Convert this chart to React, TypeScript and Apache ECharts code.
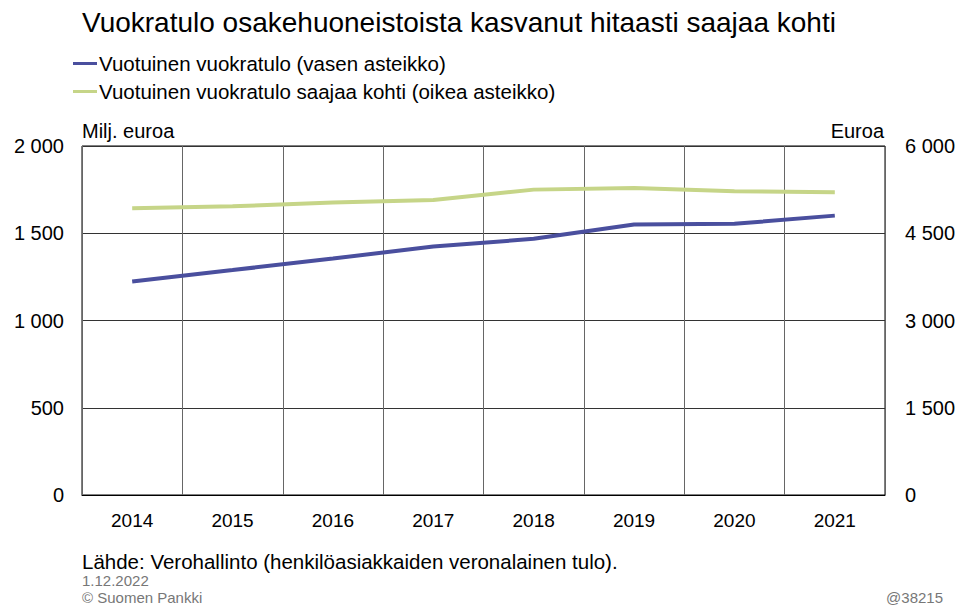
import React, { useEffect, useRef } from "react";
import * as echarts from "echarts";

const years = ["2014", "2015", "2016", "2017", "2018", "2019", "2020", "2021"];
const rentIncome = [1224, 1289, 1355, 1424, 1468, 1550, 1554, 1601];
const rentPerRecipient = [4929, 4964, 5027, 5073, 5250, 5279, 5221, 5204];
const seriesNames = [
  "Vuotuinen vuokratulo (vasen asteikko)",
  "Vuotuinen vuokratulo saajaa kohti (oikea asteikko)",
];

const FONT = "Liberation Sans, Arial, sans-serif";
const fmt = (v: number) => {
  const s = String(Math.round(v));
  return s.length > 3 ? s.slice(0, s.length - 3) + " " + s.slice(-3) : s;
};

export default function App() {
  const ref = useRef<HTMLDivElement>(null);
  useEffect(() => {
    if (!ref.current) return;
    const chart = echarts.init(ref.current, undefined, { renderer: "svg" });
    chart.setOption({
      animation: false,
      textStyle: { fontFamily: FONT },
      title: {
        text: "Vuokratulo osakehuoneistoista kasvanut hitaasti saajaa kohti",
        left: 82,
        top: 8,
        padding: 0,
        textStyle: { fontFamily: FONT, fontSize: 28, fontWeight: "normal", color: "#000" },
      },
      legend: {
        orient: "vertical",
        left: 73,
        top: 53,
        padding: 0,
        itemGap: 7,
        itemWidth: 24,
        itemHeight: 3,
        icon: "rect",
        textStyle: {
          fontFamily: FONT,
          fontSize: 20.5,
          lineHeight: 20,
          color: "#000",
          padding: [0, 0, 0, -3],
        },
        data: seriesNames,
      },
      grid: {
        left: 82,
        right: 74,
        top: 146,
        bottom: 115,
        show: true,
        borderColor: "#000",
        borderWidth: 1,
      },
      xAxis: {
        type: "category",
        data: years,
        boundaryGap: true,
        axisLine: { lineStyle: { color: "#000", width: 1 } },
        axisTick: { show: false },
        axisLabel: { fontFamily: FONT, fontSize: 19, color: "#000", margin: 16, interval: 0 },
        splitLine: { show: true, interval: 0, lineStyle: { color: "#666", width: 1 } },
      },
      yAxis: [
        {
          type: "value",
          min: 0,
          max: 2000,
          interval: 500,
          axisLine: { show: false },
          axisTick: { show: false },
          axisLabel: { fontFamily: FONT, fontSize: 20, color: "#000", margin: 18, formatter: fmt },
          splitLine: { show: true, lineStyle: { color: "#333", width: 1 } },
        },
        {
          type: "value",
          min: 0,
          max: 6000,
          interval: 1500,
          position: "right",
          axisLine: { show: false },
          axisTick: { show: false },
          axisLabel: { fontFamily: FONT, fontSize: 20, color: "#000", margin: 20, formatter: fmt },
          splitLine: { show: false },
        },
      ],
      series: [
        {
          name: seriesNames[0],
          type: "line",
          yAxisIndex: 0,
          data: rentIncome,
          symbol: "none",
          lineStyle: { color: "#4a4f9e", width: 4 },
          itemStyle: { color: "#4a4f9e" },
        },
        {
          name: seriesNames[1],
          type: "line",
          yAxisIndex: 1,
          data: rentPerRecipient,
          symbol: "none",
          lineStyle: { color: "#c6d588", width: 4 },
          itemStyle: { color: "#c6d588" },
        },
      ],
      graphic: [
        {
          type: "text",
          left: 82,
          top: 121,
          style: { text: "Milj. euroa", font: `20px ${FONT}`, fill: "#000" },
        },
        {
          type: "text",
          right: 75,
          top: 121,
          style: { text: "Euroa", font: `20px ${FONT}`, fill: "#000" },
        },
        {
          type: "text",
          left: 82,
          top: 551,
          style: {
            text: "Lähde: Verohallinto (henkilöasiakkaiden veronalainen tulo).",
            font: `20.5px ${FONT}`,
            fill: "#000",
          },
        },
        {
          type: "text",
          left: 82,
          top: 573,
          style: { text: "1.12.2022", font: `15px ${FONT}`, fill: "#777" },
        },
        {
          type: "text",
          left: 82,
          top: 590,
          style: { text: "© Suomen Pankki", font: `15px ${FONT}`, fill: "#777" },
        },
        {
          type: "text",
          right: 16,
          top: 590,
          style: { text: "@38215", font: `15px ${FONT}`, fill: "#777" },
        },
      ],
    });
    return () => chart.dispose();
  }, []);
  return <div ref={ref} style={{ width: 959, height: 610, position: "absolute", left: 0, top: 0 }} />;
}
